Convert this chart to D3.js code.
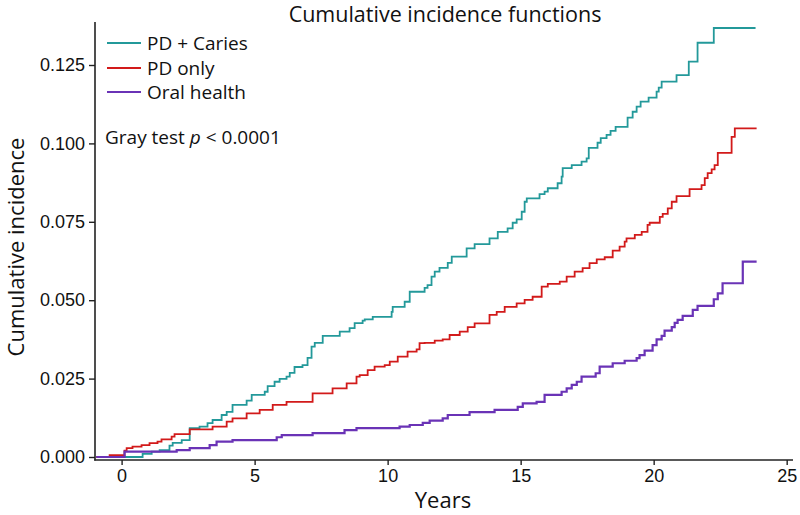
<!DOCTYPE html>
<html>
<head>
<meta charset="utf-8">
<script src="https://cdn.jsdelivr.net/npm/d3@7"></script>
<style>
  body { margin: 0; background: #fff; }
  svg { font-family: "Open Sans", "Noto Sans", sans-serif; }
</style>
</head>
<body>
<div id="chart"></div>
<script>
// step points: [years, cumulative incidence]
const pdCaries = [
  [-0.95, 0], [0.79, 0.0010], [1.13, 0.0017], [1.43, 0.0022], [1.80, 0.0036], [1.92, 0.0045],
  [2.26, 0.0054], [2.56, 0.0092], [2.93, 0.0097], [3.23, 0.0108], [3.42, 0.0118], [3.76, 0.0134],
  [3.95, 0.0144], [4.17, 0.0166], [4.70, 0.0180], [4.89, 0.0198], [5.38, 0.0208], [5.49, 0.0226],
  [5.75, 0.0240], [5.94, 0.0249], [6.20, 0.0256], [6.32, 0.0268], [6.50, 0.0287], [6.80, 0.0293],
  [6.99, 0.0316], [7.14, 0.0352], [7.26, 0.0364], [7.56, 0.0386], [8.20, 0.0400], [8.57, 0.0411],
  [8.76, 0.0427], [9.06, 0.0435], [9.14, 0.0439], [9.44, 0.0447], [10.15, 0.0463], [10.19, 0.0479],
  [10.64, 0.0495], [10.83, 0.0527], [11.39, 0.0539], [11.50, 0.0548], [11.65, 0.0575], [11.77, 0.0591],
  [11.95, 0.0603], [12.26, 0.0619], [12.41, 0.0639], [12.97, 0.0665], [13.27, 0.0679], [13.83, 0.0697],
  [14.14, 0.0718], [14.51, 0.0729], [14.70, 0.0747], [14.85, 0.0758], [15.04, 0.0782], [15.15, 0.0814],
  [15.23, 0.0825], [15.71, 0.0838], [15.90, 0.0846], [16.02, 0.0857], [16.39, 0.0873], [16.54, 0.0894],
  [16.58, 0.0921], [16.92, 0.0931], [17.29, 0.0942], [17.48, 0.0952], [17.56, 0.0986], [17.89, 0.1002],
  [18.01, 0.1017], [18.23, 0.1027], [18.38, 0.1040], [18.57, 0.1053], [19.02, 0.1082], [19.21, 0.1101],
  [19.36, 0.1117], [19.51, 0.1133], [19.81, 0.1146], [20.11, 0.1165], [20.19, 0.1178], [20.30, 0.1197],
  [20.86, 0.1218], [21.32, 0.1261], [21.65, 0.1321], [22.26, 0.1368], [23.83, 0.1368]
];

const pdOnly = [
  [-0.95, 0], [-0.45, 0.0006], [0.11, 0.0020], [0.19, 0.0028], [0.41, 0.0033], [0.75, 0.0038],
  [1.05, 0.0044], [1.35, 0.0049], [1.50, 0.0056], [1.88, 0.0065], [1.99, 0.0073], [2.56, 0.0088],
  [3.42, 0.0097], [3.95, 0.0113], [4.17, 0.0123], [4.70, 0.0139], [5.19, 0.0150], [5.68, 0.0166],
  [6.20, 0.0176], [7.18, 0.0203], [7.93, 0.0219], [8.46, 0.0235], [8.83, 0.0256], [8.95, 0.0261],
  [9.25, 0.0277], [9.51, 0.0288], [9.89, 0.0293], [10.08, 0.0304], [10.38, 0.0320], [10.75, 0.0336],
  [11.09, 0.0343], [11.20, 0.0363], [11.39, 0.0364], [11.77, 0.0371], [12.07, 0.0375], [12.33, 0.0389],
  [12.71, 0.0400], [13.01, 0.0414], [13.27, 0.0426], [13.83, 0.0453], [14.10, 0.0463], [14.40, 0.0479],
  [14.85, 0.0490], [15.15, 0.0501], [15.45, 0.0511], [15.79, 0.0543], [16.02, 0.0552], [16.47, 0.0559],
  [16.73, 0.0575], [17.03, 0.0591], [17.33, 0.0602], [17.59, 0.0618], [17.86, 0.0630], [18.16, 0.0637],
  [18.46, 0.0658], [18.72, 0.0671], [18.91, 0.0687], [18.98, 0.0697], [19.29, 0.0708], [19.55, 0.0718],
  [19.77, 0.0740], [19.85, 0.0747], [20.23, 0.0766], [20.34, 0.0775], [20.53, 0.0793], [20.68, 0.0814],
  [20.86, 0.0832], [21.35, 0.0854], [21.80, 0.0867], [21.92, 0.0889], [22.03, 0.0905], [22.18, 0.0917],
  [22.29, 0.0931], [22.41, 0.0970], [22.93, 0.1021], [23.05, 0.1048], [23.87, 0.1048]
];

const oralHealth = [
  [-0.95, 0], [0.11, 0.0017], [2.07, 0.0022], [2.56, 0.0028], [3.31, 0.0038], [3.57, 0.0049],
  [4.17, 0.0054], [5.83, 0.0063], [6.02, 0.0070], [7.18, 0.0076], [8.38, 0.0086], [8.83, 0.0092],
  [10.45, 0.0097], [10.83, 0.0102], [11.32, 0.0109], [11.58, 0.0116], [12.07, 0.0123], [12.26, 0.0134],
  [13.08, 0.0143], [14.02, 0.0150], [14.89, 0.0160], [15.08, 0.0171], [15.60, 0.0176], [15.90, 0.0198],
  [16.54, 0.0208], [16.73, 0.0219], [16.92, 0.0230], [17.11, 0.0240], [17.29, 0.0256], [17.82, 0.0267],
  [17.97, 0.0288], [18.46, 0.0299], [18.91, 0.0307], [19.36, 0.0315], [19.47, 0.0325], [19.66, 0.0339],
  [19.96, 0.0357], [20.11, 0.0375], [20.30, 0.0386], [20.41, 0.0403], [20.68, 0.0414], [20.79, 0.0428],
  [20.90, 0.0437], [21.09, 0.0450], [21.47, 0.0469], [21.65, 0.0482], [22.26, 0.0503], [22.41, 0.0522],
  [22.59, 0.0554], [23.35, 0.0623], [23.87, 0.0623]
];

const seriesNames = ["PD + Caries", "PD only", "Oral health"];
const seriesColors = ["#23999a", "#d21a1a", "#6a33b6"];
const xTicks = [0, 5, 10, 15, 20, 25];
const yTicks = [0, 0.025, 0.05, 0.075, 0.1, 0.125];

const width = 800, height = 515;

const svg = d3.select("#chart")
    .append("svg")
    .attr("width", width)
    .attr("height", height);

const x = d3.scaleLinear().domain([-1, 25.2]).range([95, 792]);
const y = d3.scaleLinear().domain([0, 0.125]).range([457, 65]);

// axes
const xAxis = svg.append("g")
    .attr("transform", "translate(0,460)")
    .call(d3.axisBottom(x).tickValues(xTicks).tickSize(5).tickSizeOuter(0).tickPadding(4));
xAxis.selectAll("text").style("font-size", "18px").style("fill", "#111");

const yAxis = svg.append("g")
    .attr("transform", "translate(95,0)")
    .call(d3.axisLeft(y).tickValues(yTicks).tickFormat(d3.format(".3f")).tickSize(6).tickSizeOuter(0).tickPadding(4));
yAxis.selectAll("text").style("font-size", "18px").style("fill", "#111");

// axis lines run past the tick range
svg.selectAll(".domain").remove();
svg.append("line")
    .attr("x1", 95).attr("x2", 95)
    .attr("y1", 22).attr("y2", 460.5)
    .style("stroke", "#222").style("stroke-width", 1.6);
svg.append("line")
    .attr("x1", 94.2).attr("x2", 793)
    .attr("y1", 460).attr("y2", 460)
    .style("stroke", "#222").style("stroke-width", 1.6);
svg.selectAll(".tick line").style("stroke", "#222").style("stroke-width", 1.4);

// curves
const line = d3.line()
    .x((d) => x(d[0]))
    .y((d) => y(d[1]))
    .curve(d3.curveStepAfter);

[pdCaries, pdOnly, oralHealth].forEach((data, i) => {
    svg.append("path")
        .datum(data)
        .attr("d", line)
        .style("fill", "none")
        .style("stroke", seriesColors[i])
        .style("stroke-width", i === 2 ? 2.2 : 1.8);
});

// legend
const legendY = [43, 68, 92];
seriesNames.forEach((name, i) => {
    svg.append("line")
        .attr("x1", 107).attr("x2", 141)
        .attr("y1", legendY[i]).attr("y2", legendY[i])
        .style("stroke", seriesColors[i])
        .style("stroke-width", 2);
    svg.append("text")
        .attr("x", 147).attr("y", legendY[i] + 7)
        .style("font-size", "19px")
        .style("fill", "#111")
        .text(name);
});

const gray = svg.append("text")
    .attr("x", 105).attr("y", 144)
    .style("font-size", "19px")
    .style("fill", "#111");
gray.append("tspan").text("Gray test ");
gray.append("tspan").style("font-style", "italic").text("p");
gray.append("tspan").text(" < 0.0001");

// titles
svg.append("text")
    .attr("x", 445).attr("y", 22)
    .attr("text-anchor", "middle")
    .style("font-size", "21.5px")
    .style("fill", "#111")
    .text("Cumulative incidence functions");

svg.append("text")
    .attr("x", 443).attr("y", 508)
    .attr("text-anchor", "middle")
    .style("font-size", "22px")
    .style("fill", "#111")
    .text("Years");

svg.append("text")
    .attr("transform", "translate(24,247) rotate(-90)")
    .attr("text-anchor", "middle")
    .style("font-size", "22px")
    .style("fill", "#111")
    .text("Cumulative incidence");
</script>
</body>
</html>
